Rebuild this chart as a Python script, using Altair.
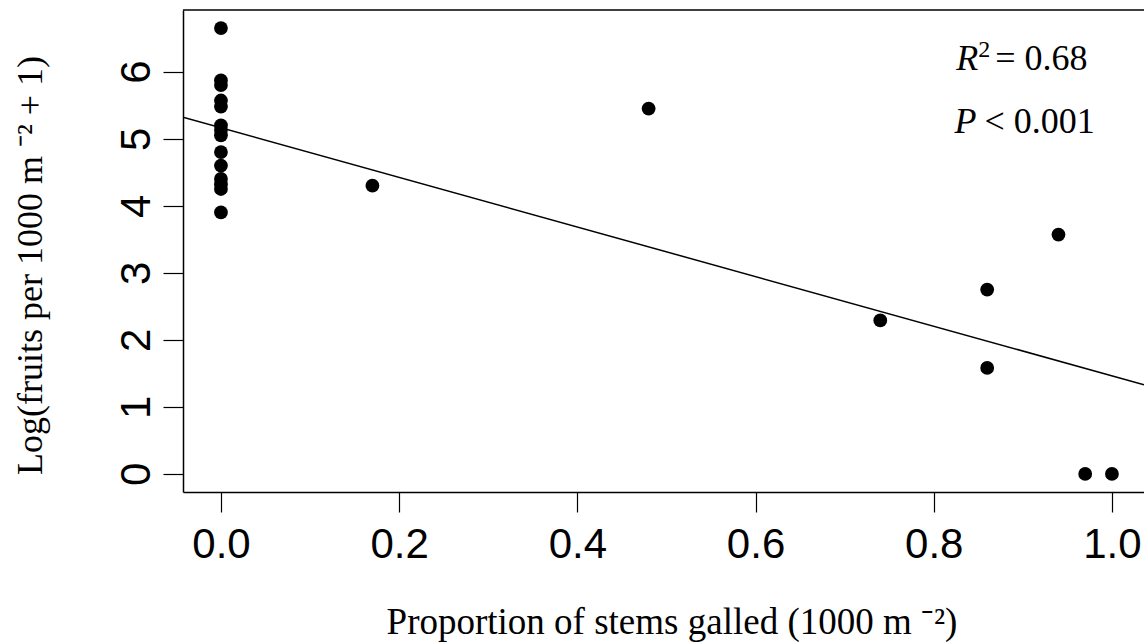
import altair as alt
import pandas as pd

# Data
x_vals = [0, 0, 0, 0, 0, 0, 0, 0, 0, 0, 0, 0, 0, 0,
          0.17, 0.48, 0.74, 0.86, 0.86, 0.94, 0.97, 1.0]
y_vals = [6.65, 5.87, 5.80, 5.57, 5.48, 5.20, 5.13, 5.05, 4.80, 4.60, 4.40, 4.32, 4.25, 3.90,
          4.30, 5.45, 2.29, 2.75, 1.58, 3.57, 0.0, 0.0]

line_x = [-0.0426, 1.036]
line_y = [5.32, 1.33]

x_ticks = [0.0, 0.2, 0.4, 0.6, 0.8, 1.0]
y_ticks = [0, 1, 2, 3, 4, 5, 6]

x_domain = [-0.0426, 1.036]
y_domain = [-0.27, 6.92]

pts = pd.DataFrame({"x": x_vals, "y": y_vals})
fit = pd.DataFrame({"x": line_x, "y": line_y})

W, H = 961, 482
SANS = "Liberation Sans"
SERIF = "Liberation Serif"

xscale = alt.Scale(domain=x_domain, nice=False, zero=False)
yscale = alt.Scale(domain=y_domain, nice=False, zero=False)

xaxis = alt.Axis(values=x_ticks, format=".1f", tickSize=20, tickColor="black", tickWidth=1.2,
                 domainColor="black", domainWidth=1.5, grid=False,
                 labelFont=SANS, labelFontSize=42, labelColor="black", labelPadding=12,
                 title="Proportion of stems galled (1000 m \u207b\u00b2)",
                 titleFont=SERIF, titleFontSize=37, titleFontWeight="normal", titleColor="black",
                 titleX=W / 2 + 8, titleY=141, titleBaseline="alphabetic", titleAnchor="middle")
yaxis = alt.Axis(values=y_ticks, format="d", tickSize=20, tickColor="black", tickWidth=1.2,
                 domainColor="black", domainWidth=1.5, grid=False,
                 labelFont=SANS, labelFontSize=42, labelColor="black", labelPadding=5,
                 labelAngle=-90, labelAlign="center", labelBaseline="bottom",
                 title="Log(fruits per 1000 m \u207b\u00b2 + 1)",
                 titleFont=SERIF, titleFontSize=36, titleFontWeight="normal", titleColor="black",
                 titleX=-153, titleY=255, titleAngle=-90, titleAlign="center",
                 titleBaseline="middle", titleAnchor="middle")

points = alt.Chart(pts).mark_circle(size=190, color="black", opacity=1).encode(
    x=alt.X("x:Q", scale=xscale, axis=xaxis),
    y=alt.Y("y:Q", scale=yscale, axis=yaxis),
)

line = alt.Chart(fit).mark_line(color="black", strokeWidth=1.5, clip=True).encode(
    x=alt.X("x:Q", scale=xscale),
    y=alt.Y("y:Q", scale=yscale),
)

top_border = alt.Chart(pd.DataFrame({"a": [0]})).mark_rule(color="black", strokeWidth=1.5).encode(
    x=alt.value(0), x2=alt.value(W), y=alt.value(0)
)

ann_italic = pd.DataFrame({"x": [0.85, 0.848], "y": [6.02, 5.08], "t": ["R", "P"]})
ann_sup = pd.DataFrame({"x": [0.85], "y": [6.02], "t": ["2"]})
ann_r_rest = pd.DataFrame({"x": [0.85], "y": [6.02], "t": ["= 0.68"]})
ann_p_rest = pd.DataFrame({"x": [0.848], "y": [5.08], "t": ["< 0.001"]})

ann_i = alt.Chart(ann_italic).mark_text(font=SERIF, fontSize=36, fontStyle="italic",
                                        align="right", baseline="alphabetic", color="black").encode(
    x=alt.X("x:Q", scale=xscale), y=alt.Y("y:Q", scale=yscale), text="t:N")
ann_s = alt.Chart(ann_sup).mark_text(font=SERIF, fontSize=24, align="left", baseline="alphabetic",
                                     color="black", dx=0, dy=-13).encode(
    x=alt.X("x:Q", scale=xscale), y=alt.Y("y:Q", scale=yscale), text="t:N")
ann_r = alt.Chart(ann_r_rest).mark_text(font=SERIF, fontSize=36, align="left", baseline="alphabetic",
                                        color="black", dx=17).encode(
    x=alt.X("x:Q", scale=xscale), y=alt.Y("y:Q", scale=yscale), text="t:N")
ann_p = alt.Chart(ann_p_rest).mark_text(font=SERIF, fontSize=36, align="left", baseline="alphabetic",
                                        color="black", dx=8).encode(
    x=alt.X("x:Q", scale=xscale), y=alt.Y("y:Q", scale=yscale), text="t:N")

chart = alt.layer(line, points, top_border, ann_i, ann_s, ann_r, ann_p).properties(
    width=W, height=H,
    autosize=alt.AutoSizeParams(type="none"),
    padding={"left": 183, "top": 10, "right": 0, "bottom": 152},
    background="white",
).configure_view(stroke=None)

chart.save("out.html", embed_options={"renderer": "svg", "actions": False})
